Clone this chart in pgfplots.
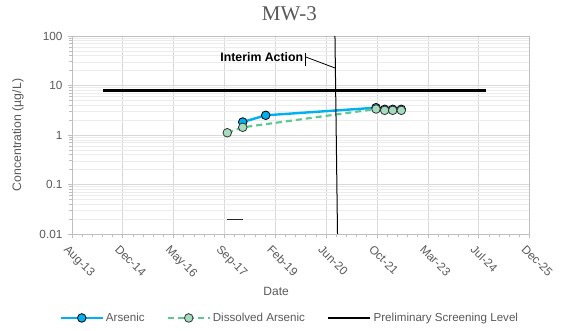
\documentclass[border=0pt]{standalone}
\usepackage{pgfplots}
\pgfplotsset{compat=1.18}
\usepackage{fontspec}
\setmainfont{Liberation Sans}
\newfontfamily\titlefont{Liberation Serif}
\definecolor{txt}{RGB}{89,89,89}
\definecolor{asblue}{RGB}{0,176,240}
\definecolor{dgreen}{RGB}{95,200,145}
\definecolor{dfill}{RGB}{165,220,192}
\definecolor{gridmaj}{RGB}{217,217,217}
\definecolor{gridmin}{RGB}{236,236,236}
\definecolor{axisgray}{RGB}{191,191,191}
\begin{document}
\begin{tikzpicture}
\useasboundingbox (-72pt,-96pt) rectangle (497pt,234pt);
\begin{axis}[
  at={(0,0)}, anchor=south west,
  scale only axis, width=457.6pt, height=198pt,
  xmin=41500, xmax=46000,
  ymode=log, ymin=0.01, ymax=100,
  xtick={41500,42000,42500,43000,43500,44000,44500,45000,45500,46000},
  xticklabels={Aug-13,Dec-14,May-16,Sep-17,Feb-19,Jun-20,Oct-21,Mar-23,Jul-24,Dec-25},
  minor x tick num=4,
  scaled x ticks=false,
  ytick={0.01,0.1,1,10,100},
  yticklabels={0.01,0.1,1,10,100},
  tick align=outside,
  major tick length=4pt, minor tick length=3pt,
  tick style={axisgray, line width=0.8pt},
  axis line style={axisgray, line width=0.8pt},
  xmajorgrids=true, xminorgrids=false,
  ymajorgrids=true, yminorgrids=true,
  major grid style={gridmaj, line width=0.8pt},
  minor grid style={gridmin, line width=0.6pt},
  xtick pos=bottom, ytick pos=left,
  ticklabel style={font=\fontsize{11.8}{12}\selectfont, color=txt},
  xticklabel style={rotate=-45, anchor=north west, xshift=-1pt, yshift=-3pt},
  yticklabel style={xshift=-2pt},
  title={MW-3},
  title style={font=\titlefont\fontsize{21}{22}\selectfont, color=txt, at={(0.475,1)}, anchor=south, yshift=6pt},
  xlabel={Date},
  xlabel style={font=\fontsize{12}{12}\selectfont, color=txt, at={(0.446,-0.288)}, anchor=center},
  ylabel={Concentration (µg/L)},
  ylabel style={font=\fontsize{12.3}{12}\selectfont, color=txt, at={(-0.118,0.5)}, anchor=center},
  legend columns=3,
  legend style={at={(0.476,-0.424)}, anchor=center, draw=none, fill=none,
    font=\fontsize{11.6}{12}\selectfont, text=txt,
    /tikz/every even column/.append style={column sep=20pt},
    inner sep=0pt, nodes={inner sep=2pt}},
  legend image code/.code={\draw[mark repeat=2,mark phase=2,#1] plot coordinates {(0pt,0pt)(21pt,0pt)(42pt,0pt)};},
  clip=false,
]
% Arsenic
\addplot[asblue, line width=2.4pt, mark=*, mark size=4.3pt,
  mark options={solid, fill=asblue, draw=black, line width=0.8pt}]
  coordinates {(43179,1.83)(43405,2.5)(44490,3.56)(44575,3.3)(44654,3.3)(44738,3.3)};
\addlegendentry{Arsenic}
% Dissolved Arsenic
\addplot[dgreen, line width=2.2pt, dash pattern=on 6pt off 4pt, mark=*, mark size=4.3pt,
  mark options={solid, fill=dfill, draw=black!80, line width=0.8pt}]
  coordinates {(43027,1.11)(43179,1.43)(44490,3.35)(44575,3.15)(44654,3.15)(44738,3.15)};
\addlegendentry{Dissolved Arsenic}
% Preliminary Screening Level
\addplot[black, line width=2.6pt, mark=none] coordinates {(41808,8)(45571,8)};
\addlegendentry{Preliminary Screening Level}
% Interim action line
\addplot[black, line width=1pt, mark=none, forget plot] coordinates {(44086,100)(44111,0.01)};
% leader
\addplot[black, line width=0.8pt, mark=none, forget plot] coordinates {(43798,37.7)(44086,22.6)};
\addplot[black, line width=0.8pt, mark=none, forget plot] coordinates {(43798,45.4)(43798,24.8)};
% small dash
\addplot[black!85, line width=1.2pt, mark=none, forget plot] coordinates {(43020,0.02)(43177,0.02)};
\node[font=\bfseries\fontsize{12.3}{12}\selectfont, anchor=east, inner sep=0pt] at (axis cs:43775,37.7) {Interim Action};
\end{axis}
\end{tikzpicture}
\end{document}
